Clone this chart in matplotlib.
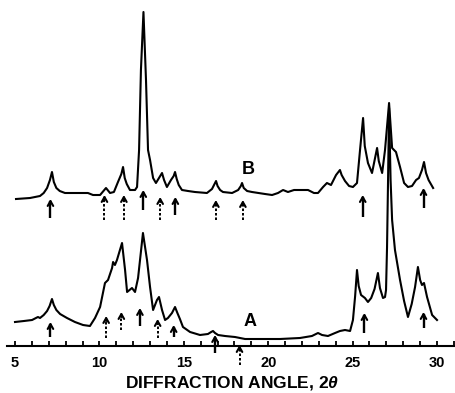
import matplotlib
matplotlib.use("Agg")
import matplotlib.pyplot as plt
from matplotlib.ticker import MultipleLocator, FixedLocator

plt.rcParams['font.family'] = ['Liberation Sans', 'DejaVu Sans']
plt.rcParams['mathtext.fontset'] = 'custom'
plt.rcParams['mathtext.it'] = 'Liberation Sans:italic:bold'
plt.rcParams['mathtext.rm'] = 'Liberation Sans:bold'

# ---- data (intensities in arbitrary units) ----
two_theta_A = [5.00, 5.53, 6.01, 6.24, 6.36, 6.48, 6.70, 6.90, 7.05, 7.19, 7.30, 7.45, 7.67,
               8.08, 8.55, 9.03, 9.44, 9.74, 10.04, 10.33, 10.51, 10.75, 10.81, 10.92, 11.04,
               11.34, 11.52, 11.64, 11.93, 12.11, 12.29, 12.58, 12.82, 13.00, 13.18, 13.41,
               13.53, 13.71, 13.89, 14.06, 14.30, 14.48, 14.62, 14.77, 14.95, 15.37, 15.96,
               16.43, 16.62, 16.73, 16.85, 17.03, 17.44, 18.03, 18.63, 19.51, 20.70, 21.88,
               22.59, 22.95, 23.19, 23.54, 23.96, 24.25, 24.55, 24.85, 25.02, 25.15, 25.26,
               25.36, 25.50, 25.73, 25.91, 26.10, 26.30, 26.50, 26.62, 26.80, 26.92, 26.98,
               27.04, 27.10, 27.16, 27.25, 27.34, 27.51, 27.81, 28.05, 28.28, 28.50, 28.70,
               28.87, 29.00, 29.11, 29.23, 29.41, 29.71, 30.00]
intensity_A = [24, 25, 26, 28, 29, 28, 31, 35, 40, 47, 41, 36, 32,
               28, 24, 21, 20, 28, 39, 63, 66, 78, 84, 81, 86,
               103, 76, 54, 58, 54, 68, 113, 86, 59, 36, 46,
               49, 36, 26, 28, 33, 39, 33, 27, 19, 14, 11,
               12, 14, 15, 13, 11, 10, 9, 7, 7, 7, 8,
               10, 13, 11, 10, 13, 15, 16, 15, 26, 50, 76,
               60, 51, 48, 44, 48, 57, 73, 58, 48, 49, 56,
               99, 166, 238, 166, 126, 96, 66, 45, 29, 42, 59,
               79, 66, 61, 63, 49, 31, 26]

two_theta_B = [5.06, 5.89, 6.48, 6.70, 6.90, 7.07, 7.19, 7.30, 7.45, 7.65, 7.96, 8.85, 9.32,
               9.62, 10.04, 10.39, 10.63, 10.86, 11.10, 11.30, 11.40, 11.50, 11.62, 11.81,
               12.11, 12.23, 12.35, 12.46, 12.61, 12.76, 12.88, 13.00, 13.18, 13.35, 13.53,
               13.71, 13.83, 14.00, 14.24, 14.40, 14.48, 14.58, 14.70, 14.89, 15.25, 15.66,
               16.37, 16.67, 16.91, 17.00, 17.15, 17.32, 17.86, 18.22, 18.38, 18.45, 18.55,
               18.75, 19.04, 19.81, 20.23, 20.58, 20.88, 21.17, 21.53, 21.88, 22.36, 22.71,
               22.95, 23.25, 23.48, 23.72, 24.02, 24.25, 24.35, 24.55, 24.79, 25.02, 25.26,
               25.44, 25.62, 25.72, 25.91, 26.15, 26.33, 26.45, 26.55, 26.75, 26.92, 27.16,
               27.34, 27.57, 27.81, 28.05, 28.28, 28.52, 28.76, 28.93, 29.11, 29.23, 29.35,
               29.50, 29.77]
intensity_B = [7, 8, 10, 13, 18, 26, 34, 24, 18, 15, 13, 13, 13,
               11, 11, 18, 13, 14, 24, 32, 39, 28, 22, 16,
               16, 19, 56, 136, 194, 126, 56, 46, 28, 23, 28,
               33, 26, 19, 26, 30, 34, 27, 21, 16, 15, 14,
               13, 17, 25, 20, 16, 14, 13, 16, 20, 23, 18,
               15, 14, 12, 11, 13, 16, 14, 16, 16, 16, 13,
               13, 19, 23, 21, 31, 36, 31, 25, 20, 19, 23,
               56, 88, 60, 43, 33, 48, 58, 45, 33, 56, 103,
               58, 54, 39, 23, 19, 20, 26, 28, 36, 44, 33,
               26, 18]

arrows_A_pos = [7.1, 10.4, 11.3, 12.4, 13.45, 14.4, 16.85, 18.3, 25.7, 29.2]
arrows_A_kind = ['solid', 'dotted', 'dotted', 'solid', 'dotted', 'solid', 'solid', 'dotted', 'solid', 'solid']
arrows_B_pos = [7.1, 10.3, 11.45, 12.6, 13.6, 14.5, 16.9, 18.5, 25.6, 29.2]
arrows_B_kind = ['solid', 'dotted', 'dotted', 'solid', 'dotted', 'solid', 'dotted', 'dotted', 'solid', 'solid']

x_tick_values = [5, 10, 15, 20, 25, 30]
trace_labels = ['A', 'B']
x_title = 'DIFFRACTION ANGLE, 2$\\theta$'

# ---- layout ----
offset_B = 140
arrow_tip_A = [24, 30, 34, 38, 27, 21, 11, 1, 33, 34]
arrow_tail_A = [9, 8, 16, 20, 8, 9, -7, -19, 13, 18]
arrow_tip_B = [147, 151, 151, 156, 149, 149, 146, 146, 151, 158]
arrow_tail_B = [128, 126, 126, 136, 126, 131, 126, 126, 129, 138]

fig = plt.figure(figsize=(4.55, 3.93), dpi=100)
ax = fig.add_axes([0, 0, 1, 1])
ax.set_xlim(4.111, 31.066)
ax.set_ylim(-47, 346)

ax.plot(two_theta_A, intensity_A, color='black', lw=1.5, solid_joinstyle='round')
ax.plot(two_theta_B, [v + offset_B for v in intensity_B], color='black', lw=1.5,
        solid_joinstyle='round')


def draw_arrow(x, tip, tail, kind):
    ls = '-' if kind == 'solid' else (0, (1.3, 1.0))
    lw = 1.7 if kind == 'solid' else 1.4
    ax.plot([x, x], [tail, tip - 2], color='black', lw=lw, linestyle=ls,
            solid_capstyle='butt')
    ax.annotate('', xy=(x, tip), xytext=(x, tip - 5),
                arrowprops=dict(arrowstyle='->,head_length=0.35,head_width=0.2',
                                lw=1.5, color='black', shrinkA=0, shrinkB=0))


for x, k, t, b in zip(arrows_A_pos, arrows_A_kind, arrow_tip_A, arrow_tail_A):
    draw_arrow(x, t, b, k)
for x, k, t, b in zip(arrows_B_pos, arrows_B_kind, arrow_tip_B, arrow_tail_B):
    draw_arrow(x, t, b, k)

ax.text(18.92, 24, trace_labels[0], ha='center', va='center', fontsize=13, fontweight='bold')
ax.text(18.80, 176, trace_labels[1], ha='center', va='center', fontsize=13, fontweight='bold')

for s in ['top', 'left', 'right']:
    ax.spines[s].set_visible(False)
ax.spines['bottom'].set_position(('data', 0))
ax.spines['bottom'].set_linewidth(1.5)
ax.spines['bottom'].set_bounds(4.53, 31.066)

ax.xaxis.set_major_locator(FixedLocator(x_tick_values))
ax.xaxis.set_minor_locator(MultipleLocator(1))
ax.set_xticklabels([str(v) for v in x_tick_values])
ax.tick_params(axis='x', which='both', direction='in', length=3.5, width=1.3, pad=7,
               labelsize=10.5)
for lab in ax.get_xticklabels():
    lab.set_fontweight('bold')
ax.set_yticks([])

ax.text(17.86, -37, x_title, ha='center', va='center', fontsize=12.5, fontweight='bold')

fig.savefig('out.png', dpi=100)
